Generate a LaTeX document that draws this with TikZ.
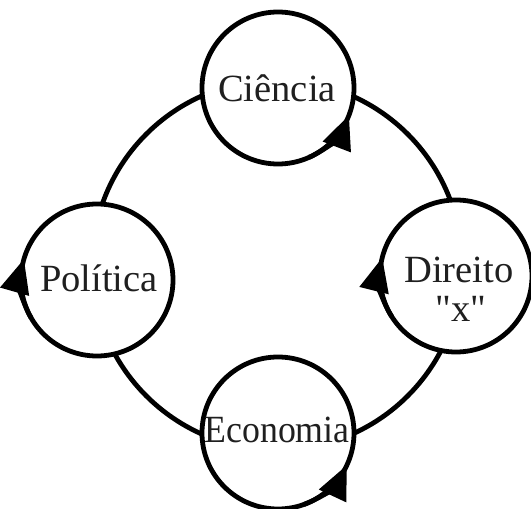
\documentclass[tikz,border=0pt]{standalone}
\usepackage{fontspec}
\setmainfont{Liberation Serif}[Ligatures=TeXOff]
\usetikzlibrary{arrows.meta}
\begin{document}
\begin{tikzpicture}[x=1pt,y=1pt,
  ring/.style={line width=4.8pt,draw=black},
  bubble/.style={circle,ring,fill=white,minimum size=152pt,inner sep=0pt,outer sep=0pt},
  word/.style={anchor=base,inner sep=0pt,font=\fontsize{38.5}{44}\selectfont,text=black!88},
  turn/.style={line width=4.8pt,-{Triangle[length=34pt,width=29pt]}}]
\useasboundingbox (0,0) rectangle (531,509);
% outer cycle linking the four spheres
\coordinate (hub) at (277,244);
\draw[ring] (hub) circle[radius=185pt];
% spheres
\node[bubble] (cien) at (278,421) {};
\node[bubble] (pol)  at (97,229)  {};
\node[bubble] (dir)  at (456,233) {};
\node[bubble] (eco)  at (278,76)  {};
% labels
\node[word] (tcien) at (277,407) {Ciência};
\node[word] (tpol)  at (99,217)  {Política};
\node[word] (tdir)  at (459,226) {Direito};
\node[word] (tx)    at (461,187) {"x"};
\node[word,xscale=0.93] (teco) at (277,66) {Economia};
% rotation arrows on each sphere
\draw[turn] (cien.-66) arc[start angle=-66,end angle=-21,radius=76pt];
\draw[turn] (eco.-70)  arc[start angle=-70,end angle=-25,radius=76pt];
\draw[turn] (pol.210)  arc[start angle=210,end angle=164,radius=76pt];
\draw[turn] (dir.212)  arc[start angle=212,end angle=166,radius=76pt];
\end{tikzpicture}
\end{document}
